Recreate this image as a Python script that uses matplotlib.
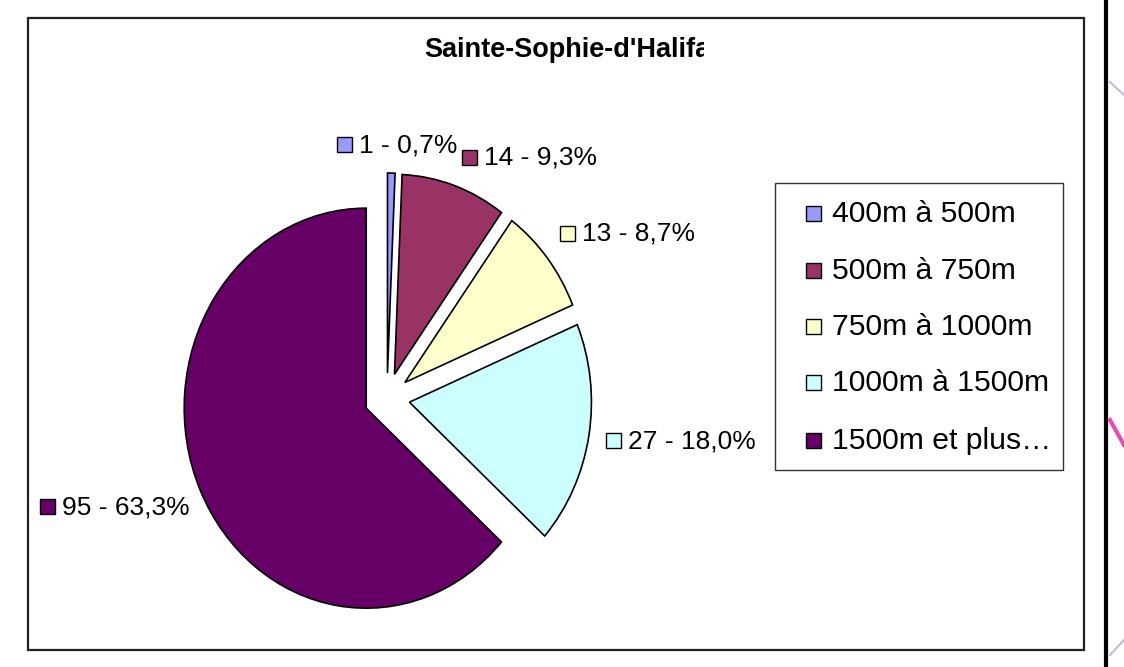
import numpy as np
import matplotlib
matplotlib.use('Agg')
import matplotlib.pyplot as plt
from matplotlib.patches import Rectangle
from matplotlib.transforms import Bbox, TransformedBbox

# data
categories = ['400m à 500m', '500m à 750m', '750m à 1000m', '1000m à 1500m', '1500m et plus…']
counts = [1, 14, 13, 27, 95]
colors = ['#9999FF', '#993366', '#FFFFCC', '#CCFFFF', '#660066']
title = "Sainte-Sophie-d'Halifa"

plt.rcParams['font.family'] = ['Liberation Sans', 'DejaVu Sans']

W, H = 1124, 667
fig = plt.figure(figsize=(W / 100, H / 100), dpi=100)


def fx(px):
    return px / W


def fy(py):
    return 1 - py / H


# outer frame of the chart
fig.patches.append(Rectangle((fx(28), fy(650)), fx(1084) - fx(28), fy(18) - fy(650),
                             transform=fig.transFigure, fill=False, edgecolor='#222222', lw=1.6))
# edge of the page on the right
fig.lines.append(plt.Line2D([fx(1106), fx(1106)], [0, 1], transform=fig.transFigure,
                            color='black', lw=3))
fig.lines.append(plt.Line2D([fx(1110), fx(1124)], [fy(420), fy(445)], transform=fig.transFigure,
                            color='#e0209a', lw=3, alpha=0.8))
fig.lines.append(plt.Line2D([fx(1110), fx(1124)], [fy(82), fy(95)], transform=fig.transFigure,
                            color='#a8a0cc', lw=1.5, alpha=0.7))
fig.lines.append(plt.Line2D([fx(1110), fx(1124)], [fy(655), fy(640)], transform=fig.transFigure,
                            color='#a8a0cc', lw=1.5, alpha=0.7))

# pie
ax = fig.add_axes([fx(159.5), 19 / H, 455 / W, 500 / H])
wedges, _ = ax.pie(counts, colors=colors, startangle=90, counterclock=False,
                   explode=[0.125] * len(counts),
                   wedgeprops=dict(edgecolor='black', linewidth=1.2))
ax.set_aspect('auto')
ax.set_xlim(-1.25, 1.25)
ax.set_ylim(-1.25, 1.25)
ax.axis('off')

# title (cut on the right like in the source)
t = fig.text(fx(424), fy(50), title, fontsize=19.5, fontweight='bold', ha='left', va='center')
t.set_clip_box(TransformedBbox(Bbox([[0, 0], [fx(704), 1]]), fig.transFigure))
t.set_clip_on(True)

# data labels: small square + "n - pct%"
total = sum(counts)
label_pos = [(337, 144), (462, 157), (560, 233), (606, 440), (40, 506)]
sq = 15
for (x, y), c, col in zip(label_pos, counts, colors):
    txt = f"{c} - {100 * c / total:.1f}%".replace('.', ',')
    fig.patches.append(Rectangle((fx(x), fy(y + sq / 2)), sq / W, sq / H, transform=fig.transFigure,
                                 facecolor=col, edgecolor='black', lw=1))
    fig.text(fx(x + sq + 7), fy(y + 1), txt, fontsize=19, ha='left', va='center')

# legend box
fig.patches.append(Rectangle((fx(775), fy(470)), fx(1063) - fx(775), fy(183) - fy(470),
                             transform=fig.transFigure, facecolor='white', edgecolor='#333333', lw=1))
leg_y = [213, 270, 326, 382, 440]
for y, name, col in zip(leg_y, categories, colors):
    fig.patches.append(Rectangle((fx(806), fy(y + sq / 2)), sq / W, sq / H, transform=fig.transFigure,
                                 facecolor=col, edgecolor='black', lw=1))
    fig.text(fx(832), fy(y + 1), name, fontsize=21.7, ha='left', va='center')

fig.savefig('out.png', dpi=100, facecolor='white')
